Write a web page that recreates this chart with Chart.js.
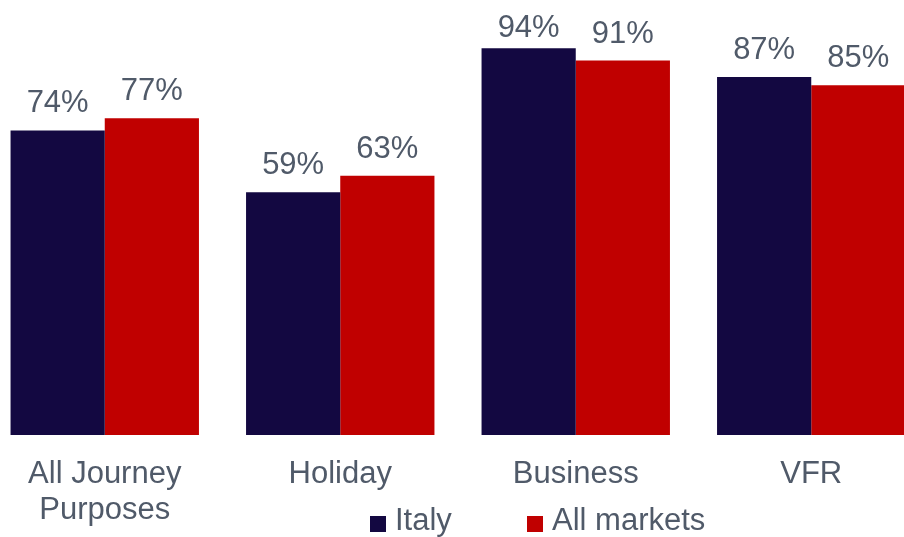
<!DOCTYPE html>
<html>
<head>
<meta charset="utf-8">
<script src="https://cdn.jsdelivr.net/npm/chart.js@4.4.1/dist/chart.umd.min.js"></script>
<style>
  html, body { margin: 0; padding: 0; width: 904px; height: 537px; overflow: hidden; background: #ffffff; position: relative; font-family: "Liberation Sans", Arial, sans-serif; }
  #wrap { position: absolute; left: -13px; top: 0; width: 942px; height: 537px; }
  #legend { position: absolute; top: 0; left: 0; width: 904px; height: 537px; pointer-events: none; }
  .item { position: absolute; top: 503px; height: 34px; font-size: 31px; color: #505a69; white-space: nowrap; line-height: 34px; }
  .box { position: absolute; top: 13px; left: 0; width: 16px; height: 16px; }
  .lbl { position: absolute; left: 25px; top: 0; }
</style>
</head>
<body>
<div id="wrap"><canvas id="c"></canvas></div>
<div id="legend"></div>
<script>
const categories = [["All Journey", "Purposes"], "Holiday", "Business", "VFR"];
const seriesNames = ["Italy", "All markets"];
const italyValues = [74, 59, 94, 87];
const allMarketsValues = [77, 63, 91, 85];
const seriesColors = ["#130841", "#c00000"];
const textColor = "#505a69";

const valueLabels = {
  id: "valueLabels",
  afterDatasetsDraw(chart) {
    const ctx = chart.ctx;
    ctx.save();
    ctx.font = '31px "Liberation Sans", Arial, sans-serif';
    ctx.fillStyle = textColor;
    ctx.textAlign = "center";
    ctx.textBaseline = "alphabetic";
    chart.data.datasets.forEach((ds, di) => {
      const meta = chart.getDatasetMeta(di);
      meta.data.forEach((el, i) => {
        const y = Math.max(el.y - 18, 37);
        ctx.fillText(ds.data[i] + "%", el.x, y);
      });
    });
    ctx.restore();
  }
};

const chart = new Chart(document.getElementById("c"), {
  type: "bar",
  data: {
    labels: categories,
    datasets: [
      { label: seriesNames[0], data: italyValues, backgroundColor: seriesColors[0], borderWidth: 0 },
      { label: seriesNames[1], data: allMarketsValues, backgroundColor: seriesColors[1], borderWidth: 0 }
    ]
  },
  options: {
    responsive: true,
    maintainAspectRatio: false,
    animation: false,
    devicePixelRatio: 1,
    layout: { padding: { top: 23.5, left: 0, right: 0, bottom: 0 } },
    datasets: { bar: { categoryPercentage: 0.8, barPercentage: 1.0 } },
    plugins: { legend: { display: false }, tooltip: { enabled: false } },
    scales: {
      y: { display: false, min: 0, max: 100 },
      x: {
        grid: { display: false, drawTicks: false },
        border: { display: false },
        ticks: {
          color: textColor,
          padding: 21,
          font: { family: '"Liberation Sans", Arial, sans-serif', size: 31, lineHeight: 1.17 }
        },
        afterFit(scale) { scale.height = 102; }
      }
    }
  },
  plugins: [valueLabels]
});

// HTML legend built from the chart's datasets
const legendEl = document.getElementById("legend");
const legendLefts = [370, 527];
chart.data.datasets.forEach((ds, i) => {
  const item = document.createElement("div");
  item.className = "item";
  item.style.left = legendLefts[i] + "px";
  const box = document.createElement("span");
  box.className = "box";
  box.style.background = ds.backgroundColor;
  const lbl = document.createElement("span");
  lbl.className = "lbl";
  lbl.textContent = ds.label;
  item.appendChild(box);
  item.appendChild(lbl);
  legendEl.appendChild(item);
});
</script>
</body>
</html>
